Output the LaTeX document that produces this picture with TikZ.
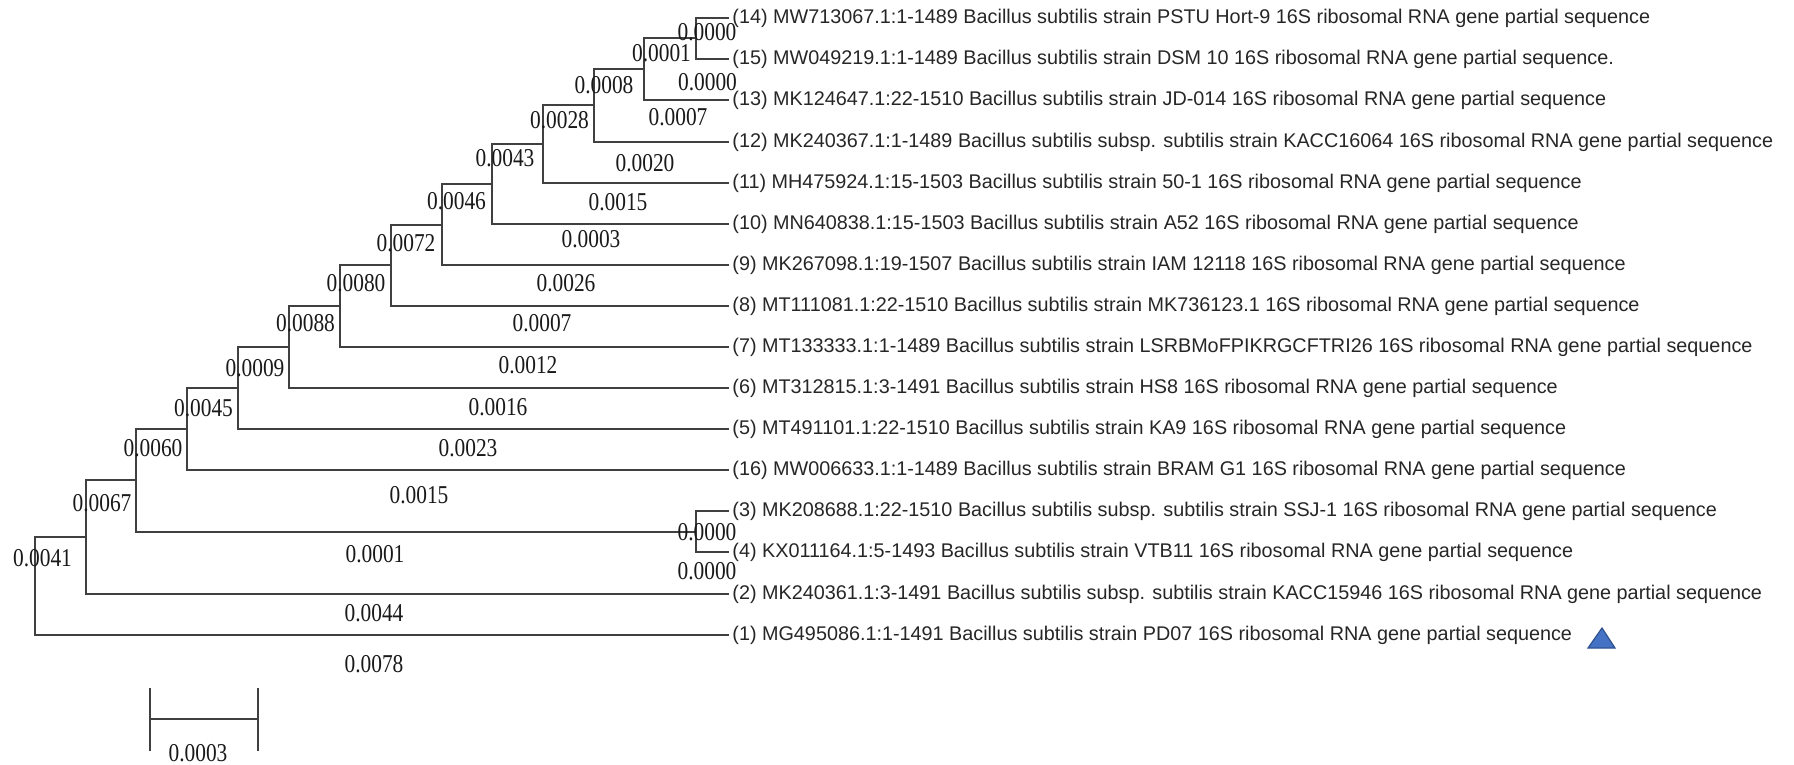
\documentclass[tikz,border=0pt]{standalone}
\usepackage{fontspec}
\setmainfont{Liberation Serif}
\newfontfamily\leaffont{Liberation Sans}
\definecolor{markblue}{HTML}{4472C4}
\definecolor{markedge}{HTML}{2F528F}

\begin{document}
\begin{tikzpicture}[x=0.5pt, y=-0.5pt,
    branch/.style={draw=black!75, line width=1pt},
    leaf/.style={anchor=west, inner sep=1.5pt, text=black!85, font=\fontsize{9.9}{11}\leaffont},
    len/.style={inner sep=0pt, yscale=1.2, text=black!90, font=\fontsize{10.7}{12}\selectfont}]

\useasboundingbox (0,0) rectangle (1794,765);

%========================
% Taxa
%========================
\node[leaf] (t14) at (729,18)  {(14) MW713067.1:1-1489 Bacillus subtilis strain PSTU Hort-9 16S ribosomal RNA gene partial sequence};
\node[leaf] (t15) at (729,59)  {(15) MW049219.1:1-1489 Bacillus subtilis strain DSM 10 16S ribosomal RNA gene partial sequence.};
\node[leaf] (t13) at (729,100) {(13) MK124647.1:22-1510 Bacillus subtilis strain JD-014 16S ribosomal RNA gene partial sequence};
\node[leaf] (t12) at (729,142) {(12) MK240367.1:1-1489 Bacillus subtilis subsp. subtilis strain KACC16064 16S ribosomal RNA gene partial sequence};
\node[leaf] (t11) at (729,183) {(11) MH475924.1:15-1503 Bacillus subtilis strain 50-1 16S ribosomal RNA gene partial sequence};
\node[leaf] (t10) at (729,224) {(10) MN640838.1:15-1503 Bacillus subtilis strain A52 16S ribosomal RNA gene partial sequence};
\node[leaf] (t9)  at (729,265) {(9) MK267098.1:19-1507 Bacillus subtilis strain IAM 12118 16S ribosomal RNA gene partial sequence};
\node[leaf] (t8)  at (729,306) {(8) MT111081.1:22-1510 Bacillus subtilis strain MK736123.1 16S ribosomal RNA gene partial sequence};
\node[leaf] (t7)  at (729,347) {(7) MT133333.1:1-1489 Bacillus subtilis strain LSRBMoFPIKRGCFTRI26 16S ribosomal RNA gene partial sequence};
\node[leaf] (t6)  at (729,388) {(6) MT312815.1:3-1491 Bacillus subtilis strain HS8 16S ribosomal RNA gene partial sequence};
\node[leaf] (t5)  at (729,429) {(5) MT491101.1:22-1510 Bacillus subtilis strain KA9 16S ribosomal RNA gene partial sequence};
\node[leaf] (t16) at (729,470) {(16) MW006633.1:1-1489 Bacillus subtilis strain BRAM G1 16S ribosomal RNA gene partial sequence};
\node[leaf] (t3)  at (729,511) {(3) MK208688.1:22-1510 Bacillus subtilis subsp. subtilis strain SSJ-1 16S ribosomal RNA gene partial sequence};
\node[leaf] (t4)  at (729,552) {(4) KX011164.1:5-1493 Bacillus subtilis strain VTB11 16S ribosomal RNA gene partial sequence};
\node[leaf] (t2)  at (729,594) {(2) MK240361.1:3-1491 Bacillus subtilis subsp. subtilis strain KACC15946 16S ribosomal RNA gene partial sequence};
\node[leaf] (t1)  at (729,635) {(1) MG495086.1:1-1491 Bacillus subtilis strain PD07 16S ribosomal RNA gene partial sequence};

% reference strain mark
\filldraw[fill=markblue, draw=markedge, line width=0.6pt] (1602,628) coordinate (mk) -- (1615,648) -- (1588,648) -- cycle;

%========================
% Internal nodes
%========================
\coordinate (nA) at (696,38.5);
\coordinate (nB) at (644,69);
\coordinate (nC) at (594,105.5);
\coordinate (nD) at (543,144);
\coordinate (nE) at (492,184);
\coordinate (nF) at (442,224.5);
\coordinate (nG) at (391,265);
\coordinate (nH) at (340,306);
\coordinate (nI) at (289,347);
\coordinate (nJ) at (238,388);
\coordinate (nK) at (187,429);
\coordinate (nQ) at (696,531.5);
\coordinate (nL) at (136,480);
\coordinate (nM) at (86,537);
\coordinate (nR) at (35,586);

% Branches
\draw[branch] (t14.west) -| (nA) |- (t15.west);
\draw[branch] (nA) -| (nB) |- (t13.west);
\draw[branch] (nB) -| (nC) |- (t12.west);
\draw[branch] (nC) -| (nD) |- (t11.west);
\draw[branch] (nD) -| (nE) |- (t10.west);
\draw[branch] (nE) -| (nF) |- (t9.west);
\draw[branch] (nF) -| (nG) |- (t8.west);
\draw[branch] (nG) -| (nH) |- (t7.west);
\draw[branch] (nH) -| (nI) |- (t6.west);
\draw[branch] (nI) -| (nJ) |- (t5.west);
\draw[branch] (nJ) -| (nK) |- (t16.west);
\draw[branch] (t3.west) -| (nQ) |- (t4.west);
\draw[branch] (nK) -| (nL) |- (nQ);
\draw[branch] (nL) -| (nM) |- (t2.west);
\draw[branch] (nM) -| (nR) |- (t1.west);

% Node values
\node[len] (vA) at (707,32)    {0.0000};
\node[len] (vB) at (661.5,53)  {0.0001};
\node[len] (vC) at (604,85)    {0.0008};
\node[len] (vD) at (559.5,120) {0.0028};
\node[len] (vE) at (505,158)   {0.0043};
\node[len] (vF) at (456.5,201) {0.0046};
\node[len] (vG) at (406,243)   {0.0072};
\node[len] (vH) at (356,283)   {0.0080};
\node[len] (vI) at (305.5,323) {0.0088};
\node[len] (vJ) at (255,368)   {0.0009};
\node[len] (vK) at (203.5,408) {0.0045};
\node[len] (vL) at (153,448)   {0.0060};
\node[len] (vM) at (102,503)   {0.0067};
\node[len] (vR) at (42.5,558)  {0.0041};
\node[len] (vQ) at (707,532)   {0.0000};

% Branch lengths
\node[len] (w15) at (707.5,82) {0.0000};
\node[len] (w13) at (678,117)  {0.0007};
\node[len] (w12) at (645,163)  {0.0020};
\node[len] (w11) at (618,202)  {0.0015};
\node[len] (w10) at (591,239)  {0.0003};
\node[len] (w9)  at (566,283)  {0.0026};
\node[len] (w8)  at (542,323)  {0.0007};
\node[len] (w7)  at (528,365)  {0.0012};
\node[len] (w6)  at (498,407)  {0.0016};
\node[len] (w5)  at (468,448)  {0.0023};
\node[len] (w16) at (419,495)  {0.0015};
\node[len] (wQ)  at (375,554)  {0.0001};
\node[len] (w4)  at (707,571)  {0.0000};
\node[len] (w2)  at (374,613)  {0.0044};
\node[len] (w1)  at (374,664)  {0.0078};

%========================
% Scale bar
%========================
\coordinate (sbL) at (150,719);
\coordinate (sbR) at (258,719);
\draw[branch] (sbL) -- (sbR);
\draw[branch] (sbL) ++(0,-31) -- ++(0,63);
\draw[branch] (sbR) ++(0,-31) -- ++(0,63);
\node[len] (sb) at (198,753) {0.0003};

\end{tikzpicture}
\end{document}
